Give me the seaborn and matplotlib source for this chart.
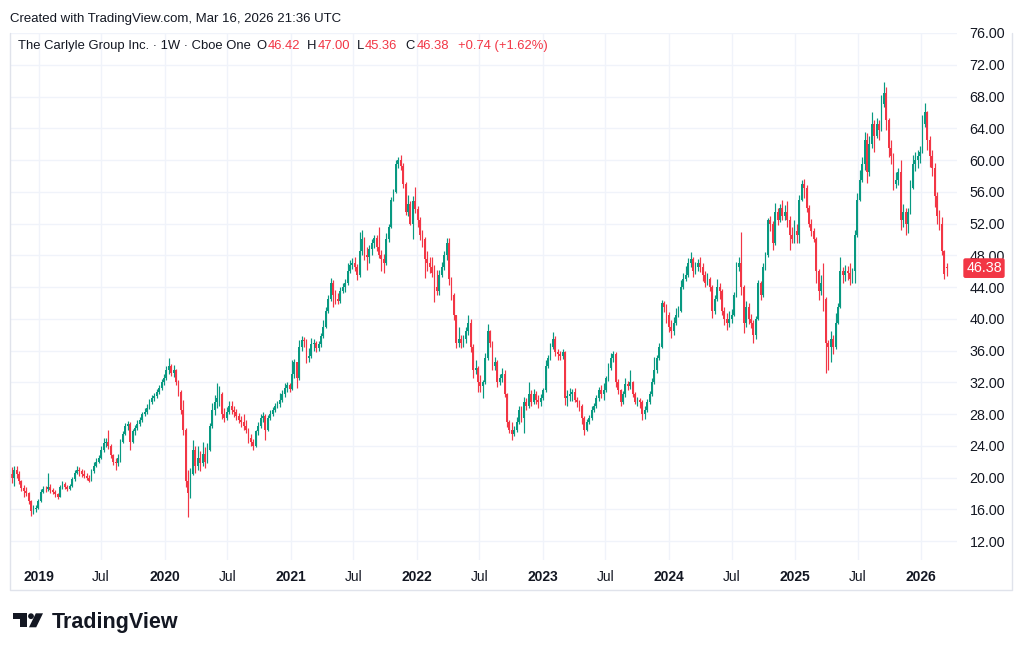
import numpy as np
import pandas as pd
import seaborn as sns
import matplotlib.pyplot as plt
import matplotlib.transforms as mtransforms
from matplotlib.patches import Polygon, Ellipse
from matplotlib.lines import Line2D

# weekly candles, The Carlyle Group (CG), Oct 2018 - Mar 2026
closes = [
    20.0, 21.0, 20.5, 19.5, 18.7, 18.3, 18.0, 17.0, 15.8, 16.0,
    16.2, 17.0, 18.2, 18.6, 18.5, 18.8, 18.4, 18.2, 17.9, 17.6,
    18.8, 19.2, 18.8, 18.6, 18.9, 19.8, 20.6, 21.0, 20.8, 20.5,
    20.2, 20.0, 19.6, 20.8, 21.5, 22.0, 22.5, 23.5, 24.3, 24.5,
    24.0, 22.8, 22.0, 21.8, 22.5, 24.5, 25.5, 26.5, 26.8, 24.5,
    25.8, 26.2, 26.8, 27.3, 28.0, 28.3, 28.8, 29.5, 30.0, 30.3,
    30.8, 31.3, 32.0, 32.5, 33.5, 34.0, 33.2, 33.5, 32.0, 30.8,
    28.5, 26.0, 19.5, 18.0, 20.5, 23.5, 21.5, 22.5, 21.8, 23.0,
    22.0, 23.5, 26.5, 28.5, 29.5, 30.0, 30.5, 28.0, 27.5, 28.3,
    29.0, 28.5, 28.2, 27.8, 27.3, 27.0, 26.5, 26.0, 25.0, 24.5,
    24.0, 25.8, 26.5, 27.5, 27.8, 26.0, 27.5, 28.0, 28.5, 29.0,
    29.3, 29.8, 30.5, 31.3, 31.6, 31.2, 33.0, 34.5, 32.5, 36.5,
    37.3, 37.2, 35.0, 35.3, 36.8, 37.0, 36.3, 36.8, 37.8, 39.0,
    41.0, 42.5, 44.5, 43.0, 42.5, 42.3, 43.5, 44.0, 44.5, 46.0,
    46.8, 47.0, 46.5, 45.5, 48.5, 50.0, 48.0, 47.8, 48.8, 49.5,
    50.2, 49.0, 48.0, 47.5, 47.0, 50.0, 51.5, 55.0, 56.0, 59.5,
    60.0, 59.3, 57.0, 53.5, 54.5, 52.0, 54.8, 53.8, 52.5, 50.5,
    50.0, 47.5, 47.0, 46.5, 45.8, 44.0, 43.5, 45.5, 46.5, 48.0,
    49.5, 45.0, 43.0, 40.5, 37.0, 37.5, 37.0, 37.5, 38.5, 39.5,
    36.5, 33.5, 33.8, 32.0, 31.5, 32.0, 35.0, 38.5, 37.0, 34.0,
    34.5, 32.0, 32.5, 33.0, 30.5, 27.0, 26.0, 25.5, 26.0, 27.0,
    28.5, 27.5, 29.5, 29.0, 30.5, 29.5, 30.5, 29.8, 29.5, 30.0,
    31.0, 34.0, 35.0, 36.5, 37.5, 35.8, 35.5, 35.3, 35.8, 30.0,
    30.3, 30.5, 30.8, 29.8, 29.5, 29.0, 27.5, 26.0, 27.0, 27.5,
    28.5, 29.0, 30.0, 31.0, 30.5, 31.0, 32.5, 33.8, 35.0, 35.5,
    32.0, 31.0, 29.5, 30.5, 31.8, 31.5, 32.0, 30.5, 29.5, 29.8,
    29.5, 28.0, 28.5, 29.5, 30.5, 32.0, 33.5, 35.0, 36.5, 42.0,
    41.5, 40.5, 39.0, 38.5, 39.5, 40.5, 41.0, 44.0, 45.0, 45.5,
    47.0, 47.5, 46.0, 46.5, 47.0, 46.5, 45.5, 44.5, 45.0, 44.0,
    41.0, 42.5, 44.0, 43.5, 41.0, 40.0, 39.5, 40.0, 40.5, 43.0,
    46.5, 47.0, 44.0, 39.5, 41.5, 40.0, 39.5, 38.0, 40.0, 44.5,
    43.0, 46.5, 48.0, 52.5, 52.0, 49.5, 53.5, 52.5, 54.0, 53.0,
    53.5, 52.5, 50.5, 50.0, 51.0, 50.5, 55.0, 57.0, 56.5, 54.0,
    52.0, 51.0, 50.0, 46.0, 43.5, 44.5, 42.5, 37.0, 36.5, 37.5,
    36.5, 39.5, 41.5, 46.0, 45.5, 46.0, 45.8, 45.0, 46.0, 50.5,
    55.0, 57.5, 59.5, 62.5, 58.5, 62.0, 64.5, 63.0, 64.5, 63.8,
    67.0, 68.5, 65.0, 61.5, 60.5, 57.0, 57.5, 58.5, 52.5, 53.5,
    52.0, 53.5, 56.5, 59.5, 60.0, 60.5, 61.0, 64.5, 66.0, 62.5,
    60.5, 59.0, 55.5, 53.0, 52.0, 48.5, 45.64, 46.38,
]
highs = [
    21.3, 21.4, 21.4, 20.8, 19.7, 19.0, 18.8, 18.2, 17.2, 16.5,
    16.6, 17.3, 18.5, 18.9, 18.9, 20.6, 19.2, 18.7, 18.4, 18.1,
    19.0, 19.6, 19.4, 19.0, 19.2, 20.1, 21.0, 21.4, 21.3, 21.1,
    20.9, 20.6, 20.3, 21.1, 21.9, 22.4, 22.9, 24.0, 25.0, 25.0,
    26.0, 24.2, 23.0, 22.4, 23.0, 24.8, 25.9, 26.9, 27.1, 27.0,
    26.1, 26.6, 27.2, 27.6, 28.3, 28.7, 29.2, 29.9, 30.4, 30.7,
    31.2, 31.7, 32.4, 33.0, 34.0, 35.0, 34.3, 34.2, 33.7, 32.3,
    31.0, 29.8, 26.3, 21.0, 21.2, 24.7, 24.0, 24.0, 23.4, 24.5,
    23.8, 24.3, 26.9, 29.4, 30.4, 31.9, 31.5, 30.8, 28.8, 28.9,
    29.7, 29.7, 29.0, 28.6, 28.1, 27.8, 28.0, 27.2, 26.3, 25.5,
    24.8, 26.0, 27.0, 28.0, 28.2, 28.0, 27.9, 28.5, 28.9, 29.4,
    29.7, 30.6, 31.0, 31.9, 32.0, 31.9, 34.8, 34.9, 34.6, 37.3,
    37.8, 37.7, 37.4, 36.3, 37.6, 37.5, 37.2, 37.2, 38.2, 39.8,
    41.5, 43.0, 45.1, 44.9, 43.6, 43.2, 44.0, 44.5, 45.0, 47.0,
    47.4, 47.6, 47.8, 46.9, 50.9, 51.2, 50.3, 49.0, 49.3, 50.0,
    50.6, 50.5, 51.6, 48.6, 48.2, 50.8, 52.0, 55.3, 56.3, 60.0,
    60.4, 60.6, 59.6, 57.2, 55.6, 54.8, 55.5, 56.6, 54.2, 52.8,
    51.2, 50.3, 48.5, 47.8, 47.8, 46.8, 46.1, 46.2, 47.2, 48.5,
    50.2, 50.2, 45.3, 43.2, 40.5, 39.0, 38.0, 38.0, 39.0, 40.5,
    40.0, 36.8, 34.8, 34.0, 32.9, 32.3, 35.7, 39.3, 38.6, 37.2,
    35.2, 34.8, 33.0, 33.8, 33.5, 30.6, 27.3, 27.0, 26.5, 27.6,
    29.0, 29.0, 30.1, 30.0, 32.0, 31.0, 31.2, 30.9, 30.4, 30.5,
    31.3, 34.8, 35.4, 37.0, 38.3, 37.8, 36.2, 36.0, 36.2, 36.0,
    31.0, 31.3, 31.2, 31.3, 30.2, 29.8, 29.2, 27.8, 27.4, 27.9,
    29.0, 29.4, 30.4, 31.4, 31.6, 31.9, 32.8, 34.4, 35.7, 36.0,
    35.8, 32.4, 31.2, 30.9, 32.6, 32.2, 33.5, 32.2, 30.8, 30.1,
    30.0, 29.8, 29.0, 29.9, 30.9, 32.6, 35.2, 35.4, 37.0, 42.4,
    42.3, 41.9, 40.9, 39.8, 40.2, 41.3, 41.6, 44.9, 45.8, 46.6,
    47.6, 48.4, 47.8, 47.2, 47.5, 47.8, 47.0, 46.0, 45.8, 45.3,
    44.3, 43.0, 45.0, 44.5, 43.7, 41.5, 40.7, 41.0, 41.2, 43.4,
    47.1, 47.8, 50.9, 44.2, 42.3, 42.0, 40.6, 39.8, 40.4, 44.9,
    44.8, 47.0, 48.4, 52.7, 53.0, 52.3, 54.6, 54.0, 54.5, 55.0,
    54.3, 54.8, 52.9, 51.5, 52.5, 52.0, 55.6, 57.5, 57.6, 56.8,
    54.3, 52.6, 51.4, 50.3, 46.3, 45.5, 47.0, 42.8, 37.3, 38.5,
    38.0, 40.7, 42.0, 47.8, 46.5, 46.8, 46.6, 47.0, 46.4, 51.2,
    55.8, 58.7, 60.4, 63.5, 63.4, 63.0, 66.0, 65.0, 65.3, 65.0,
    68.2, 69.8, 69.2, 65.3, 62.5, 60.9, 58.5, 59.0, 60.0, 54.5,
    54.0, 54.0, 57.5, 60.6, 61.0, 61.3, 61.8, 65.7, 67.2, 66.2,
    63.0, 61.3, 59.6, 56.0, 53.7, 52.8, 48.7, 47.00,
]
lows = [
    19.3, 18.9, 20.0, 19.2, 18.3, 17.6, 17.7, 16.7, 15.2, 15.4,
    15.7, 16.0, 16.9, 18.0, 18.2, 18.3, 18.1, 17.9, 17.6, 17.3,
    17.5, 18.6, 18.5, 18.3, 18.4, 18.8, 19.6, 20.4, 20.2, 20.1,
    19.9, 19.7, 19.4, 19.5, 20.6, 21.3, 21.8, 22.3, 23.2, 23.8,
    23.6, 22.5, 21.6, 21.0, 21.5, 22.0, 24.3, 25.3, 26.0, 23.5,
    24.3, 25.4, 26.0, 26.5, 27.0, 27.7, 28.0, 28.6, 29.2, 29.7,
    30.0, 30.5, 31.0, 31.7, 32.3, 33.0, 32.8, 32.7, 31.6, 30.3,
    28.0, 25.3, 18.8, 15.0, 17.4, 20.3, 20.6, 21.0, 20.8, 21.5,
    21.2, 21.8, 23.3, 26.2, 27.9, 28.8, 29.0, 27.4, 27.0, 27.2,
    28.0, 28.0, 27.6, 27.2, 26.9, 26.4, 26.0, 25.6, 24.3, 24.0,
    23.5, 23.9, 25.4, 26.3, 27.0, 24.7, 25.8, 27.2, 27.8, 28.2,
    28.7, 28.9, 29.5, 30.2, 30.8, 30.8, 31.0, 32.5, 31.3, 32.3,
    36.0, 36.4, 34.4, 34.6, 35.1, 36.0, 35.8, 36.0, 36.5, 37.6,
    38.8, 40.7, 42.2, 41.5, 41.8, 41.8, 42.0, 43.2, 43.4, 44.3,
    45.8, 46.3, 46.0, 44.9, 45.3, 48.0, 47.4, 46.1, 47.0, 48.0,
    48.9, 48.5, 47.6, 46.0, 45.8, 46.8, 49.7, 51.4, 54.8, 55.8,
    59.0, 58.8, 56.5, 53.1, 53.0, 51.8, 50.0, 53.3, 51.5, 49.9,
    49.0, 45.1, 46.0, 45.8, 45.3, 42.1, 43.0, 43.0, 45.2, 46.2,
    47.4, 44.3, 42.4, 39.8, 36.3, 36.5, 36.3, 36.5, 37.0, 38.0,
    35.8, 32.5, 33.0, 30.8, 30.8, 30.0, 31.8, 34.8, 36.4, 33.5,
    33.6, 31.4, 31.7, 32.0, 30.1, 26.4, 25.6, 24.7, 25.2, 25.7,
    26.8, 27.0, 25.6, 28.5, 28.8, 29.0, 29.3, 29.3, 28.7, 29.0,
    29.8, 30.8, 33.8, 34.8, 36.2, 35.3, 34.8, 34.8, 34.9, 29.1,
    29.0, 29.6, 29.6, 29.5, 28.9, 28.4, 26.8, 25.3, 25.8, 26.7,
    27.3, 28.2, 28.8, 29.6, 30.0, 29.8, 30.8, 32.2, 33.6, 34.6,
    31.4, 30.5, 29.0, 29.2, 30.2, 31.0, 31.2, 30.1, 29.2, 29.0,
    28.8, 27.3, 27.4, 28.3, 29.3, 30.3, 31.8, 33.2, 34.8, 36.3,
    40.8, 39.5, 38.3, 37.6, 38.0, 39.2, 40.2, 40.8, 43.7, 44.8,
    45.3, 46.5, 45.2, 45.6, 46.0, 45.9, 44.8, 44.0, 44.2, 43.5,
    40.1, 40.6, 42.2, 42.5, 40.5, 39.2, 38.6, 39.0, 39.5, 40.3,
    42.8, 46.0, 43.0, 38.2, 39.0, 39.3, 38.8, 36.9, 37.4, 39.8,
    42.4, 42.8, 46.2, 47.8, 51.0, 48.6, 49.3, 51.8, 52.2, 52.4,
    52.5, 51.5, 48.6, 49.5, 49.6, 49.5, 49.5, 54.8, 55.2, 53.5,
    51.5, 50.4, 49.7, 44.5, 42.4, 43.0, 41.0, 33.2, 33.5, 34.5,
    35.5, 36.2, 39.3, 41.3, 44.5, 44.8, 44.9, 44.3, 44.5, 44.5,
    50.3, 54.8, 57.2, 58.7, 57.1, 58.0, 61.5, 61.0, 62.8, 62.5,
    63.6, 66.7, 63.8, 60.4, 59.5, 56.2, 56.5, 56.8, 51.2, 51.5,
    50.5, 50.8, 53.2, 56.3, 58.6, 59.0, 59.6, 60.9, 64.2, 61.3,
    59.1, 58.0, 54.1, 52.0, 51.2, 48.0, 45.0, 45.36,
]
first_open = 20.5      # open of the first weekly candle
last_open = 46.42      # open of the current week (from the legend)
last_week = '2026-03-16'

price_ticks = [12, 16, 20, 24, 28, 32, 36, 40, 44, 48, 52, 56, 60, 64, 68, 72, 76]
date_ticks = ['2019-01-01', '2019-07-01', '2020-01-01', '2020-07-01', '2021-01-01',
              '2021-07-01', '2022-01-01', '2022-07-01', '2023-01-01', '2023-07-01',
              '2024-01-01', '2024-07-01', '2025-01-01', '2025-07-01', '2026-01-01']
date_labels = ['2019', 'Jul', '2020', 'Jul', '2021', 'Jul', '2022', 'Jul', '2023', 'Jul',
               '2024', 'Jul', '2025', 'Jul', '2026']

legend_name = 'The Carlyle Group Inc. · 1W · Cboe One'
legend_items = [('O', '46.42'), ('H', '47.00'), ('L', '45.36'), ('C', '46.38')]
legend_change = '+0.74 (+1.62%)'
last_price = 46.38

GREEN = '#089981'
RED = '#F23645'
TXT = '#131722'
GRID = '#f0f3fa'

sns.set_theme(style='white')
plt.rcParams['font.family'] = ['Liberation Sans', 'DejaVu Sans']

W, H = 1024, 653
fig = plt.figure(figsize=(W / 100, H / 100), dpi=100)
fig.patch.set_facecolor('white')


def fx(x):
    return x / W


def fy(y):
    return 1 - y / H


# plot pane in pixels
L, R, T, B = 10, 957, 33, 560
ax = fig.add_axes([fx(L), fy(B), (R - L) / W, (B - T) / H])
ax.set_facecolor('white')

dates = pd.date_range(end=last_week, periods=len(closes), freq='W-MON')
opens = [first_open] + closes[:-2] + [last_open]
df = pd.DataFrame({'date': dates, 'open': opens, 'high': highs,
                   'low': lows, 'close': closes})
df['color'] = np.where(df['close'] >= df['open'], GREEN, RED)
df['body_lo'] = df[['open', 'close']].min(axis=1)
df['body_h'] = np.maximum((df['close'] - df['open']).abs(), 0.1)

ax.vlines(df['date'], df['low'], df['high'], colors=df['color'], lw=0.85, zorder=3)
ax.bar(df['date'], df['body_h'], bottom=df['body_lo'], width=5.2,
       color=df['color'], lw=0, zorder=4)

ax.set_xlim(pd.Timestamp('2018-10-10'), pd.Timestamp('2026-04-15'))
ax.set_ylim(9.61, 76.0)

ax.set_yticks(price_ticks)
ax.set_yticklabels([f'{v:.2f}' for v in price_ticks])
ax.yaxis.tick_right()
ax.set_xticks(pd.to_datetime(date_ticks))
ax.set_xticklabels(date_labels)
for lab in ax.get_xticklabels():
    if lab.get_text() != 'Jul':
        lab.set_fontweight('bold')
ax.tick_params(axis='y', length=0, pad=9, labelsize=10.3, labelcolor=TXT)
ax.tick_params(axis='x', length=0, pad=7.5, labelsize=10, labelcolor=TXT)
ax.grid(True, color=GRID, lw=1, zorder=0)
for s in ax.spines.values():
    s.set_visible(False)
ax.set_xlabel('')
ax.set_ylabel('')

# last price tag on the price scale
trans = mtransforms.blended_transform_factory(ax.transAxes, ax.transData)
ax.text((984 - L) / (R - L), last_price, f'{last_price:.2f}', transform=trans,
        ha='center', va='center', color='white', size=10.3, clip_on=False, zorder=6,
        bbox=dict(boxstyle='round,pad=0.2,rounding_size=0.15', fc=RED, ec='none'))

# outer frame of the chart pane (left, bottom, right)
frame_x = [fx(10), fx(10), fx(1012), fx(1012)]
frame_y = [fy(33), fy(590), fy(590), fy(33)]
fig.add_artist(Line2D(frame_x, frame_y, transform=fig.transFigure,
                      color='#e0e3eb', lw=1))

# header texts
fig.text(fx(10), fy(19), 'Created with TradingView.com, Mar 16, 2026 21:36 UTC',
         size=9.55, color=TXT, va='center', ha='left')
fig.text(fx(18), fy(46), legend_name, size=9.4, color=TXT, va='center', ha='left')
for (k, v), xk, xv in zip(legend_items, [256, 307, 356.5, 405.5],
                          [267.5, 318, 364.5, 416.5]):
    fig.text(fx(xk), fy(46), k, size=9.4, color=TXT, va='center', ha='left')
    fig.text(fx(xv), fy(46), v, size=9.4, color=RED, va='center', ha='left')
fig.text(fx(458), fy(46), legend_change, size=9.4, color=RED, va='center', ha='left')

# TradingView logo
logo = '#131722'
fig.patches.append(Polygon([(fx(12.7), fy(613.3)), (fx(26.7), fy(613.3)),
                            (fx(26.7), fy(627.3)), (fx(19.5), fy(627.3)),
                            (fx(19.5), fy(618.5)), (fx(12.7), fy(618.5))],
                           closed=True, transform=fig.transFigure, fc=logo, ec='none'))
fig.patches.append(Ellipse((fx(31.0), fy(616.2)), 5.8 / W, 5.8 / H,
                           transform=fig.transFigure, fc=logo, ec='none'))
fig.patches.append(Polygon([(fx(35.8), fy(613.3)), (fx(43.0), fy(613.3)),
                            (fx(36.2), fy(627.3)), (fx(29.0), fy(627.3))],
                           closed=True, transform=fig.transFigure, fc=logo, ec='none'))
fig.text(fx(51.5), fy(627.8), 'TradingView', size=15.5, weight='bold', color=logo,
         va='baseline', ha='left')

fig.savefig('out.png', dpi=100, facecolor='white')
